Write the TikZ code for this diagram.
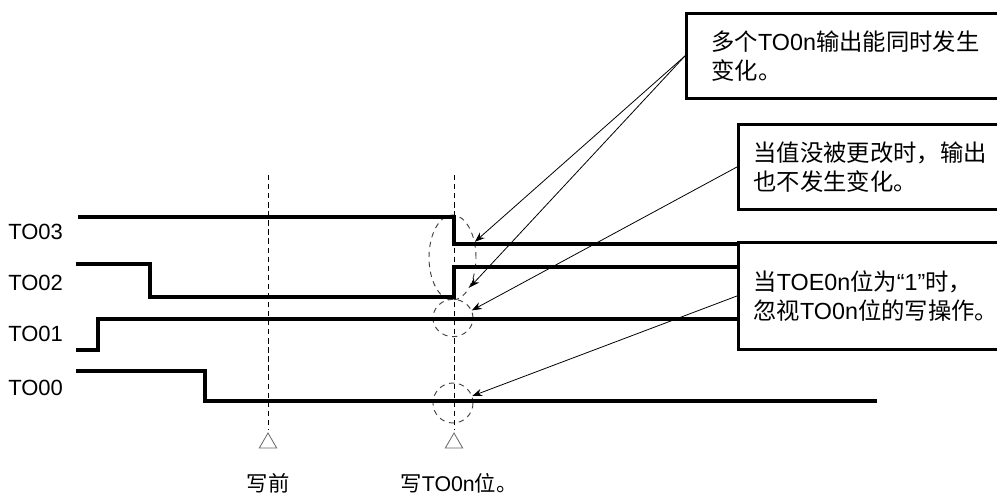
\documentclass[tikz,border=0pt]{standalone}
\usepackage{fontspec}
\setmainfont{Liberation Sans}
\newfontfamily\cjk{Noto Sans CJK SC}
\usetikzlibrary{arrows.meta,shapes.geometric}

\begin{document}
\begin{tikzpicture}[x=0.75pt,y=-0.75pt,>={Stealth[length=7.5pt,width=5.5pt]},
  wave/.style={line width=2.3pt},
  guide/.style={line width=0.7pt, dash pattern=on 4pt off 2.8pt},
  ring/.style={ellipse, draw=black!75, line width=0.7pt, dash pattern=on 4pt off 3.5pt, inner sep=0pt},
  notebox/.style={draw, line width=2.2pt, anchor=north west, align=left, inner ysep=0pt, font=\fontsize{17.5}{21.5}\selectfont},
  tri/.style={regular polygon, regular polygon sides=3, draw=black!60, line width=0.6pt, minimum size=15pt, inner sep=0pt},
  sig/.style={anchor=west, inner sep=0pt, font=\fontsize{16.5}{19}\selectfont},
  timelabel/.style={inner sep=0pt, font=\fontsize{16}{19}\selectfont},
  note/.style={->, line width=0.6pt}]

\useasboundingbox (0,0) rectangle (997,495);
\clip (0,0) rectangle (997,495);

% signal names
\node[sig] (lb3) at (8,232) {TO03};
\node[sig] (lb2) at (8,283) {TO02};
\node[sig] (lb1) at (8,334) {TO01};
\node[sig] (lb0) at (8,388) {TO00};

% dashed rings at the write point
\node[ring, minimum width=35.25pt, minimum height=63.75pt] (flip) at (452.5,257.5) {};
\node[ring, minimum width=30pt, minimum height=28pt] (keep1) at (453,318) {};
\node[ring, minimum width=30pt, minimum height=30pt] (keep0) at (453,403) {};

% waveforms
\draw[wave] (78,217) -- (454,217) -- (454,244) -- (737,244);
\draw[wave] (76,264) -- (150,264) -- (150,297) -- (454,297) -- (454,267) -- (737,267);
\draw[wave] (76,350) -- (98,350) -- (98,319) -- (737,319);
\draw[wave] (76,371) -- (205,371) -- (205,401) -- (877,401);

% time marks
\node[tri] (t1) at (268,443) {};
\node[tri] (t2) at (454,443) {};
\coordinate (g1) at (268,175);
\coordinate (g2) at (454,175);
\draw[guide, shorten >=2pt] (g1) -- (t1.north);
\draw[guide, shorten >=2pt] (g2) -- (t2.north);

\node[timelabel] (w1) at (268,483) {\cjk 写前};
\node[timelabel] (w2) at (459,483) {{\cjk 写}TO0n{\cjk 位。}};

% notes
\node[notebox, inner xsep=18.75pt, text width=225pt, minimum height=63.75pt] (chg) at (685,12)
  {{\cjk 多个}TO0n{\cjk 输出能同时发生}\\{\cjk 变化。}};
\node[notebox, inner xsep=11.25pt, text width=200pt, minimum height=63.75pt] (same) at (737,123)
  {{\cjk 当值没被更改时，输出}\\{\cjk 也不发生变化。}};
\node[notebox, inner xsep=11.25pt, text width=200pt, minimum height=80.25pt] (ign) at (737,241)
  {{\cjk 当}TOE0n{\cjk 位为}“1”{\cjk 时，}\\{\cjk 忽视}TO0n{\cjk 位的写操作。}};

\draw[note] (chg.west) -- (flip.35);
\draw[note] (chg.west) -- (flip.-60);
\draw[note] (same.west) -- (keep1.22);
\draw[note] (ign.west) -- (keep0.20);

\end{tikzpicture}
\end{document}
